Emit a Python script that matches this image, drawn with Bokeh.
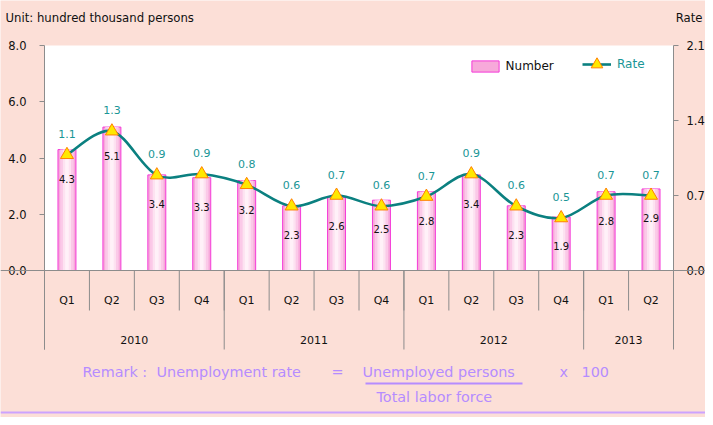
import numpy as np
from bokeh.plotting import figure
from bokeh.models import (Range1d, LinearAxis, FixedTicker, NumeralTickFormatter,
                          BoxAnnotation, Span, Label, Legend, LegendItem, ColumnDataSource)
from bokeh.core.properties import value
from bokeh.embed import file_html
from bokeh.resources import INLINE

# ---------------- data ----------------
years = ["2010", "2010", "2010", "2010", "2011", "2011", "2011", "2011",
         "2012", "2012", "2012", "2012", "2013", "2013"]
quarters = ["Q1", "Q2", "Q3", "Q4", "Q1", "Q2", "Q3", "Q4",
            "Q1", "Q2", "Q3", "Q4", "Q1", "Q2"]
number = [4.3, 5.1, 3.4, 3.3, 3.2, 2.3, 2.6, 2.5, 2.8, 3.4, 2.3, 1.9, 2.8, 2.9]
rate = [1.08, 1.30, 0.89, 0.90, 0.80, 0.60, 0.70, 0.60, 0.69, 0.90, 0.60, 0.49, 0.70, 0.70]
rate_labels = ["1.1", "1.3", "0.9", "0.9", "0.8", "0.6", "0.7", "0.6",
               "0.7", "0.9", "0.6", "0.5", "0.7", "0.7"]
year_labels = ["2010", "2011", "2012", "2013"]
number_ticks = [0, 2, 4, 6, 8]
rate_ticks = [0, 0.7, 1.4, 2.1]

# ---------------- layout (canvas pixels) ----------------
W, H = 705, 417
FL, FR, FT = 44, 673, 45          # plot area edges
ZERO_Y = 270                      # canvas y of value 0
NMAX, RMAX = 8.0, 2.1
n = len(number)
CW = (FR - FL) / n                # px per category
PPU = (ZERO_Y - FT) / NMAX        # px per unit (number)
RS = RMAX / NMAX

def xdat(cx):
    return (cx - FL) / CW
def ydat(cy):
    return (ZERO_Y - cy) / PPU

TABLE_Q = ydat(310)
TABLE_Y = ydat(349)
QLAB = ydat(300)
YLAB = ydat(339)

FONT = "DejaVu Sans"
BG = "#FCDFD7"
TEAL = "#0B8080"
TEAL_TXT = "#1A9696"
GRAY = "#8C8C8C"
LAV = "#B58CFF"
BORDER = "#CCA3FF"
INK = "#111111"

p = figure(width=W, height=H, x_range=Range1d(xdat(0), xdat(W)),
           y_range=Range1d(ydat(H), ydat(0)),
           output_backend="svg", toolbar_location=None, x_axis_location=None,
           min_border_left=0, min_border_right=0, min_border_top=0, min_border_bottom=0)
p.extra_y_ranges = {"rate": Range1d(ydat(H) * RS, ydat(0) * RS)}
p.background_fill_color = BG
p.border_fill_color = BG
p.outline_line_color = None
p.grid.visible = False

# white plotting area
p.add_layout(BoxAnnotation(left=0, right=n, bottom=0, top=NMAX, fill_color="white",
                           fill_alpha=1, line_color=None, level="underlay"))

def style_axis(ax):
    ax.axis_line_color = GRAY
    ax.major_tick_line_color = GRAY
    ax.major_tick_out = 5
    ax.major_tick_in = 0
    ax.minor_tick_line_color = None
    ax.major_label_text_font = FONT
    ax.major_label_text_font_size = "11.5px"
    ax.major_label_text_color = INK
    ax.formatter = NumeralTickFormatter(format="0.0")

ly = p.yaxis[0]
ly.ticker = FixedTicker(ticks=number_ticks)
ly.bounds = (TABLE_Y, NMAX)
ly.fixed_location = 0
style_axis(ly)
ly.major_label_standoff = 13

ry = LinearAxis(y_range_name="rate", ticker=FixedTicker(ticks=rate_ticks),
                bounds=(TABLE_Y * RS, RMAX), fixed_location=n)
style_axis(ry)
ry.major_label_standoff = 8
p.add_layout(ry, "right")

xs = np.arange(n) + 0.5
src = ColumnDataSource(dict(x=xs, q=quarters, number=number, rate=rate,
                            nlab=[f"{v:.1f}" for v in number], rlab=rate_labels))

# category table under the plot
p.add_layout(Span(location=0, dimension="width", line_color=GRAY, line_width=1))
p.segment(x0=xs - 0.5, y0=0, x1=xs - 0.5, y1=TABLE_Q, line_color=GRAY, line_width=1)
first_q = [i for i in range(n) if i == 0 or years[i] != years[i - 1]]
p.segment(x0=xs[first_q] - 0.5, y0=0, x1=xs[first_q] - 0.5, y1=TABLE_Y,
          line_color=GRAY, line_width=1)
p.text(x="x", y=QLAB, text="q", source=src, text_font=value(FONT), text_font_size="11px",
       text_align="center", text_baseline="middle", text_color=INK)
year_x = [float(np.mean([xs[i] for i in range(n) if years[i] == y])) for y in year_labels]
p.text(x=year_x, y=[YLAB] * len(year_labels), text=year_labels, text_font=value(FONT),
       text_font_size="11px", text_align="center", text_baseline="middle", text_color=INK)

# bars (layered to imitate the gradient fill)
bars = p.vbar(x="x", top="number", width=0.4, source=src, fill_color="#F7A9DA",
              line_color="#F53AD8", line_width=1)
p.vbar(x="x", top="number", width=0.3, source=src, fill_color="#FBC9E8", line_color=None)
p.vbar(x="x", top="number", width=0.18, source=src, fill_color="#FDE2F1", line_color=None)
p.vbar(x="x", top="number", width=0.08, source=src, fill_color="#FFF1F8", line_color=None)

# smooth rate line (Catmull-Rom -> cubic Bezier through the points)
ys = np.array(rate)
x0, y0, x1, y1, cx0, cy0, cx1, cy1 = ([] for _ in range(8))
for i in range(n - 1):
    a, b = max(i - 1, 0), min(i + 2, n - 1)
    x0.append(xs[i]); y0.append(ys[i]); x1.append(xs[i + 1]); y1.append(ys[i + 1])
    cx0.append(xs[i] + (xs[i + 1] - xs[a]) / 6); cy0.append(ys[i] + (ys[i + 1] - ys[a]) / 6)
    cx1.append(xs[i + 1] - (xs[b] - xs[i]) / 6); cy1.append(ys[i + 1] - (ys[b] - ys[i]) / 6)
curve = p.bezier(x0=x0, y0=y0, x1=x1, y1=y1, cx0=cx0, cy0=cy0, cx1=cx1, cy1=cy1,
                 line_color=TEAL, line_width=2.6, y_range_name="rate")
marks = p.scatter(x="x", y="rate", source=src, marker="triangle", size=13,
                  fill_color="#FFE800", line_color="#FF8000", line_width=1, y_range_name="rate")

p.text(x="x", y="number", text="nlab", source=src, y_offset=29, text_font=value(FONT),
       text_font_size="10px", text_align="center", text_baseline="middle", text_color=INK)
p.text(x="x", y="rate", text="rlab", source=src, y_offset=-21, y_range_name="rate",
       text_font=value(FONT), text_font_size="11px", text_align="center",
       text_baseline="middle", text_color=TEAL_TXT)

# legends
def mk_legend(items, loc, color, gw, gh, standoff):
    lg = Legend(items=items, location=loc, padding=0, margin=0, spacing=0,
                glyph_width=gw, glyph_height=gh, label_height=12, label_standoff=standoff,
                label_text_font=FONT, label_text_font_size="12px", label_text_color=color,
                background_fill_alpha=0, border_line_color=None)
    p.add_layout(lg)
mk_legend([LegendItem(label="Number", renderers=[bars])], (467.6, H - 72.5), INK, 34, 14, 4)
mk_legend([LegendItem(label="Rate", renderers=[curve, marks])], (582, H - 79), TEAL_TXT, 29, 30, 6)

# texts (screen units: x from left, y from bottom of the canvas-wide frame)
def lab(text, cx, cy, size, color, align="left"):
    p.add_layout(Label(x=cx, y=H - cy, x_units="screen", y_units="screen", text=text,
                       text_font=FONT, text_font_size=size, text_color=color,
                       text_align=align, text_baseline="middle"))
lab("Unit: hundred thousand persons", 5, 17, "11.7px", INK)
lab("Rate", W - 3, 17, "11.7px", INK, align="right")
lab("Remark :", 82, 371, "14.4px", LAV)
lab("Unemployment rate", 156, 371, "14.4px", LAV)
lab("=", 331, 371, "14.4px", LAV)
lab("Unemployed persons", 362, 371, "14.4px", LAV)
lab("x", 559, 371, "14.4px", LAV)
lab("100", 581, 371, "14.4px", LAV)
lab("Total labor force", 376, 396, "14.4px", LAV)

def hbar(l, r, cy, color):
    p.add_layout(BoxAnnotation(left=l, right=r, bottom=H - cy - 1, top=H - cy + 1,
                               left_units="screen", right_units="screen",
                               bottom_units="screen", top_units="screen",
                               fill_color=color, fill_alpha=1, line_color=None))
hbar(365, 522, 383, LAV)
hbar(0, W, 412, BORDER)

open("out.html", "w").write(file_html(p, INLINE))
